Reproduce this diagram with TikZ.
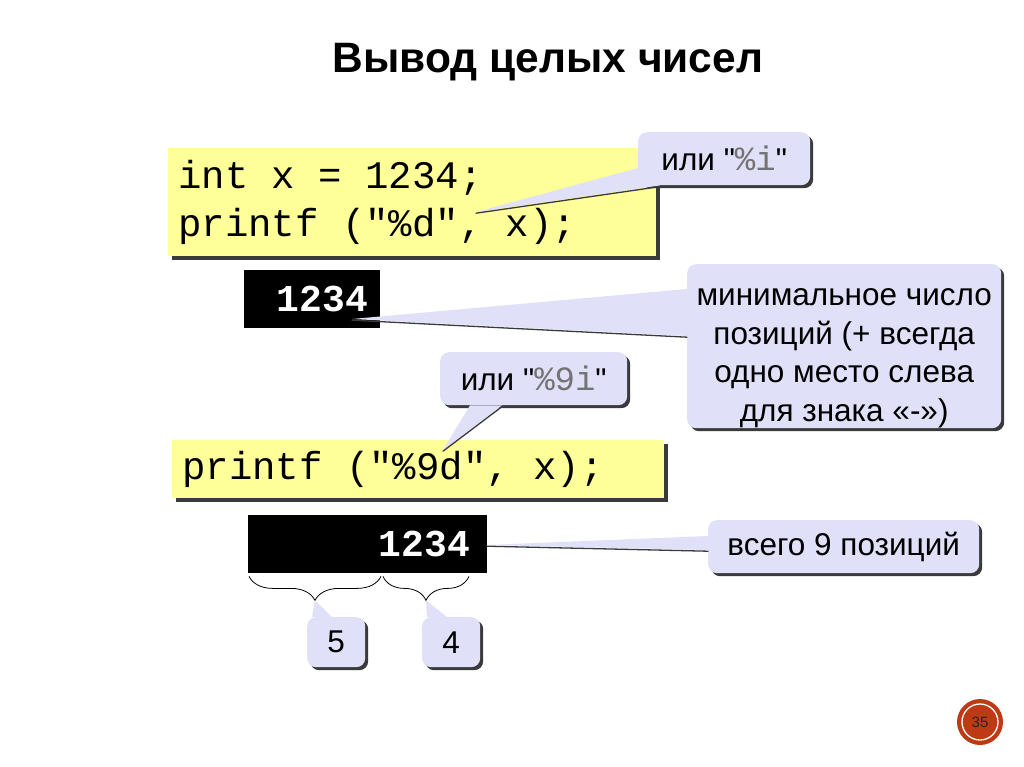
\documentclass[tikz,border=0pt]{standalone}
\usepackage{fontspec}
\setmainfont{Liberation Sans}[Ligatures=TeXOff]
\setmonofont{Liberation Mono}
\usetikzlibrary{decorations.pathreplacing,shadows,calc}
\definecolor{codey}{HTML}{FFFF99}
\definecolor{lav}{HTML}{E0E0F8}
\definecolor{shad}{HTML}{3A3A3A}
\definecolor{numred}{HTML}{BE3A14}
\newcommand\msp{\hspace*{0.6em}}
\newcommand\calltail[4][]{%
  \fill[lav] (#2) -- (#4) -- (#3) -- cycle;
  \ifx\relax#1\relax\else
  \draw[shad, line width=1.3pt, line cap=round] ([shift={(0,1.2)}]#3) -- ([shift={(0,1.2)}]#4);
  \fi}
\begin{document}
\begin{tikzpicture}[x=1pt,y=-1pt,
  codebox/.style={fill=codey, anchor=north west, inner xsep=10pt, inner ysep=0pt,
    align=left, font=\ttfamily\fontsize{39}{48}\selectfont,
    drop shadow={shadow xshift=4pt, shadow yshift=-4pt, fill=shad, opacity=1}},
  outbox/.style={fill=black, text=white, anchor=north west, inner ysep=0pt,
    align=right, font=\ttfamily\bfseries\fontsize{38}{38}\selectfont},
  callout/.style={fill=lav, rounded corners=9pt, anchor=north west, inner sep=0pt,
    align=center, font=\fontsize{31.5}{38.7}\selectfont,
    drop shadow={shadow xshift=3pt, shadow yshift=-3pt, fill=shad, opacity=1}},
  ctext/.style={font=\fontsize{31.5}{38.7}\selectfont, align=center, inner sep=0pt}]
\useasboundingbox[fill=white] (0,0) rectangle (1024,767);

% title
\node[font=\bfseries\fontsize{42.5}{42.5}\selectfont] (title) at (548,62) {Вывод целых чисел};

% code boxes
\node[codebox, text width=468pt, minimum height=108pt] (code1) at (168,148)
  {int\msp x\msp =\msp 1234;\\printf\msp ("\%d",\msp x);};
\node[codebox, text width=472pt, minimum height=58pt] (code2) at (172,440)
  {printf\msp ("\%9d",\msp x);};

% output boxes
\node[outbox, inner xsep=12pt, text width=112pt, minimum height=58pt] (out1) at (244,270) {1234};
\node[outbox, inner xsep=17pt, text width=205pt, minimum height=58pt] (out2) at (248,515) {1234};

% braces
\coordinate (b1s) at ([shift={(1,3)}]out2.south west);
\coordinate (b1e) at ([shift={(133,3)}]out2.south west);
\coordinate (b2s) at ([shift={(135,3)}]out2.south west);
\coordinate (b2e) at ([shift={(221,3)}]out2.south west);
\draw[decorate, decoration={brace, mirror, amplitude=24pt}, line width=0.8pt] (b1s) -- (b1e);
\draw[decorate, decoration={brace, mirror, amplitude=24pt}, line width=0.8pt] (b2s) -- (b2e);
\coordinate (t5) at ($(b1s)!0.5!(b1e)+(0,24)$);
\coordinate (t4) at ($(b2s)!0.5!(b2e)+(0,24)$);

% callouts
\node[callout, minimum width=172pt, minimum height=53pt] (c1) at (638,132)
  {или "\textcolor{black!55}{\ttfamily\fontsize{34}{34}\selectfont\%i}"};
\coordinate (tip1) at (476,212);
\coordinate (c1a) at ([shift={(0,36)}]c1.north west);
\coordinate (c1b) at ([shift={(22,0)}]c1.south west);
\calltail[d]{c1a}{c1b}{tip1}

\node[callout, minimum width=314pt, minimum height=164pt] (c2) at (687,264) {};
\node[ctext] (c2txt) at ($(c2.center)+(0,12)$)
  {минимальное число\\позиций (+ всегда\\одно место слева\\для знака «-»)};
\coordinate (tip2) at (352,319);
\coordinate (c2a) at ([shift={(0,25)}]c2.north west);
\coordinate (c2b) at ([shift={(0,72)}]c2.north west);
\calltail[d]{c2a}{c2b}{tip2}

\node[callout, minimum width=187pt, minimum height=53pt] (c3) at (440,352)
  {или "\textcolor{black!55}{\ttfamily\fontsize{34}{34}\selectfont\%9i}"};
\coordinate (tip3) at (443,450);
\coordinate (c3a) at ([shift={(30,0)}]c3.south west);
\coordinate (c3b) at ([shift={(62,0)}]c3.south west);
\calltail[d]{c3a}{c3b}{tip3}

\node[callout, minimum width=271pt, minimum height=53pt] (c4) at (708,520)
  {всего 9 позиций};
\coordinate (tip4) at (487,545);
\coordinate (c4a) at ([shift={(0,16)}]c4.north west);
\coordinate (c4b) at ([shift={(0,30)}]c4.north west);
\calltail[d]{c4a}{c4b}{tip4}

\node[callout, minimum width=58pt, minimum height=50pt] (c5) at (307,617) {5};
\coordinate (c5a) at ([shift={(5,0)}]c5.north west);
\coordinate (c5b) at ([shift={(25,0)}]c5.north west);
\calltail{c5a}{c5b}{t5}

\node[callout, minimum width=58pt, minimum height=50pt] (c6) at (422,617) {4};
\coordinate (c6a) at ([shift={(5,0)}]c6.north west);
\coordinate (c6b) at ([shift={(25,0)}]c6.north west);
\calltail{c6a}{c6b}{t4}

% slide number
\node[circle, fill=numred, minimum size=46pt, inner sep=0pt] (num) at (980,722) {};
\draw[white, line width=1.3pt] (num.center) circle (18);
\node[text=black!85, font=\fontsize{15}{15}\selectfont] (numtxt) at (num.center) {35};
\end{tikzpicture}
\end{document}
